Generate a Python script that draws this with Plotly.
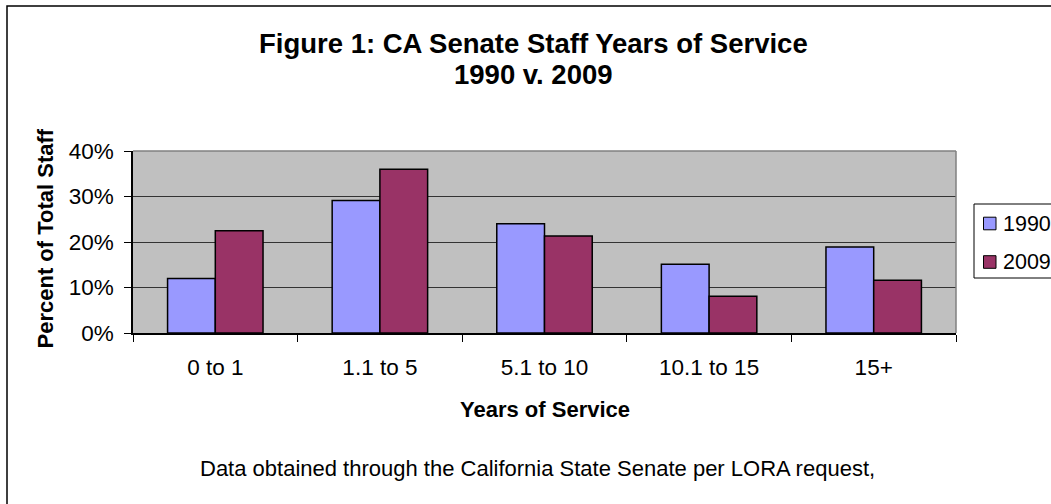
import plotly.graph_objects as go

categories = ["0 to 1", "1.1 to 5", "5.1 to 10", "10.1 to 15", "15+"]
series_names = ["1990", "2009"]
values_1990 = [0.120, 0.291, 0.240, 0.151, 0.189]
values_2009 = [0.225, 0.360, 0.213, 0.081, 0.116]
series_colors = ["#9999FF", "#993366"]
y_ticks = [0, 0.1, 0.2, 0.3, 0.4]
y_tick_labels = ["0%", "10%", "20%", "30%", "40%"]

FONT = "Liberation Sans, Arial, sans-serif"

W, H = 1051, 504
ML, MR, MT, MB = 133, 95, 151, 171
PW, PH = W - ML - MR, H - MT - MB


def px(x):
    return (x - ML) / PW


def py(y):
    return (H - MB - y) / PH


fig = go.Figure()
for name, vals, col in zip(series_names, [values_1990, values_2009], series_colors):
    fig.add_trace(go.Bar(
        x=categories, y=vals, name=name,
        marker=dict(color=col, line=dict(color="#000000", width=1.5)),
        showlegend=False,
    ))

fig.update_layout(
    width=W, height=H,
    margin=dict(l=ML, r=MR, t=MT, b=MB, autoexpand=False),
    paper_bgcolor="white",
    plot_bgcolor="#C0C0C0",
    barmode="group",
    bargap=0.42,
    bargroupgap=0,
    font=dict(family=FONT, size=22, color="black"),
    xaxis=dict(
        type="category",
        showline=True, linecolor="#000000", linewidth=1.5,
        ticks="outside", ticklen=7, tickcolor="#000000", tickwidth=1,
        tickson="boundaries",
        showgrid=False,
        tickfont=dict(family=FONT, size=22.5, color="black"),
        ticklabelstandoff=13,
    ),
    yaxis=dict(
        range=[0, 0.4],
        tickvals=y_ticks, ticktext=y_tick_labels,
        showline=True, linecolor="#000000", linewidth=1.5,
        ticks="outside", ticklen=7, tickcolor="#000000", tickwidth=1,
        showgrid=True, gridcolor="#333333", gridwidth=1,
        zeroline=False,
        tickfont=dict(family=FONT, size=22.5, color="black"),
        ticklabelstandoff=6,
    ),
)

shapes = []
# outer chart border
shapes.append(dict(type="rect", xref="paper", yref="paper",
                   x0=px(7), x1=px(1100), y0=py(560), y1=py(6),
                   line=dict(color="#000000", width=1.5), fillcolor="rgba(0,0,0,0)", layer="above"))
# plot area border (top and right)
shapes.append(dict(type="line", xref="paper", yref="paper", x0=0, x1=1, y0=1, y1=1,
                   line=dict(color="#808080", width=1.5), layer="above"))
shapes.append(dict(type="line", xref="paper", yref="paper", x0=1, x1=1, y0=0, y1=1,
                   line=dict(color="#808080", width=1.5), layer="above"))
# legend box
shapes.append(dict(type="rect", xref="paper", yref="paper",
                   x0=px(974), x1=px(1100), y0=py(278), y1=py(204),
                   line=dict(color="#000000", width=1), fillcolor="white", layer="above"))

annotations = []
legend_y = [223.5, 262]
for name, col, ly in zip(series_names, series_colors, legend_y):
    shapes.append(dict(type="rect", xref="paper", yref="paper",
                       x0=px(983.5), x1=px(996), y0=py(ly + 6.3), y1=py(ly - 6.3),
                       line=dict(color="#000000", width=1), fillcolor=col, layer="above"))
    annotations.append(dict(text=name, xref="paper", yref="paper", x=px(1001), y=py(ly),
                            xanchor="left", yanchor="middle", showarrow=False,
                            font=dict(family=FONT, size=21.5, color="black")))

annotations += [
    dict(text="<b>Figure 1: CA Senate Staff Years of Service</b>", xref="paper", yref="paper",
         x=px(533), y=py(43), xanchor="center", yanchor="middle", showarrow=False,
         font=dict(family=FONT, size=27.5, color="black")),
    dict(text="<b>1990 v. 2009</b>", xref="paper", yref="paper",
         x=px(533), y=py(75), xanchor="center", yanchor="middle", showarrow=False,
         font=dict(family=FONT, size=27.5, color="black")),
    dict(text="<b>Percent of Total Staff</b>", xref="paper", yref="paper",
         x=px(45), y=py(238.5), xanchor="center", yanchor="middle", textangle=-90, showarrow=False,
         font=dict(family=FONT, size=22, color="black")),
    dict(text="<b>Years of Service</b>", xref="paper", yref="paper",
         x=0.5, y=py(409), xanchor="center", yanchor="middle", showarrow=False,
         font=dict(family=FONT, size=22, color="black")),
    dict(text="Data obtained through the California State Senate per LORA request,",
         xref="paper", yref="paper",
         x=px(537.5), y=py(468), xanchor="center", yanchor="middle", showarrow=False,
         font=dict(family=FONT, size=22, color="black")),
]

fig.update_layout(shapes=shapes, annotations=annotations)

fig.write_html(
    "out.html",
    config={"displayModeBar": False},
    post_script="document.body.style.margin='0';document.body.style.overflow='hidden';",
)
